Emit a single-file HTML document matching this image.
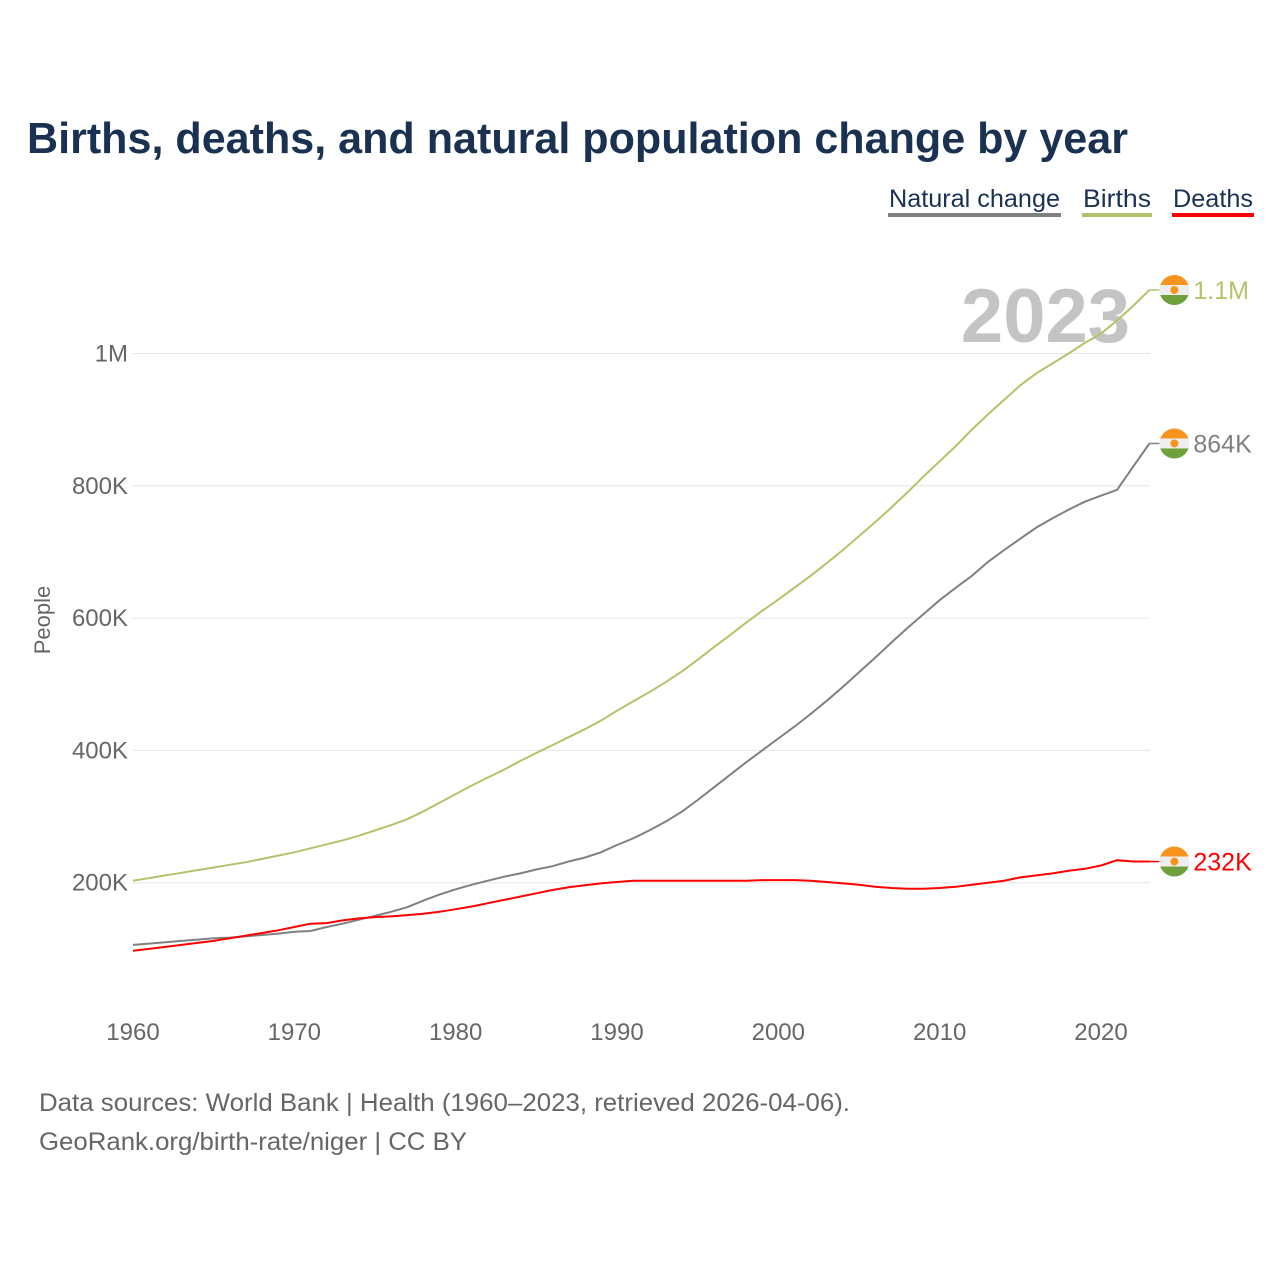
<!DOCTYPE html>
<html><head><meta charset="utf-8"><style>
body{margin:0;background:#fff;font-family:"Liberation Sans",sans-serif;}
</style></head><body>
<svg id="chart" width="1280" height="1280" xmlns="http://www.w3.org/2000/svg">
<rect width="1280" height="1280" fill="#fff"/>
<text x="27" y="153" font-size="44" font-weight="bold" fill="#1a3152" textLength="1101" lengthAdjust="spacingAndGlyphs">Births, deaths, and natural population change by year</text>
<g>
<g><text x="889" y="207" font-size="25" fill="#1a3152" textLength="171" lengthAdjust="spacingAndGlyphs">Natural change</text><rect x="888" y="213" width="173" height="4" fill="#808080"/></g>
<g><text x="1083" y="207" font-size="25" fill="#1a3152" textLength="68" lengthAdjust="spacingAndGlyphs">Births</text><rect x="1082" y="213" width="70" height="4" fill="#b4c36a"/></g>
<g><text x="1173" y="207" font-size="25" fill="#1a3152" textLength="80" lengthAdjust="spacingAndGlyphs">Deaths</text><rect x="1172" y="213" width="82" height="4" fill="#ff0000"/></g>
</g>
<text x="1130" y="342" font-size="76" font-weight="bold" fill="#c4c4c4" text-anchor="end">2023</text>
<g id="grid"></g>
<g id="yt"></g>
<g id="xt"></g>
<text transform="translate(50,620) rotate(-90)" font-size="22" fill="#666" text-anchor="middle">People</text>
<g id="lines"></g>
<g id="ends"></g>
<text x="39" y="1111" font-size="25" fill="#666" textLength="811" lengthAdjust="spacingAndGlyphs">Data sources: World Bank | Health (1960–2023, retrieved 2026-04-06).</text>
<text x="39" y="1150" font-size="25" fill="#666" textLength="428" lengthAdjust="spacingAndGlyphs">GeoRank.org/birth-rate/niger | CC BY</text>
</svg>
<script>
const years=[];for(let y=1960;y<=2023;y++)years.push(y);
const births=[203,207,211,215,219,223,227,231,236,241,246,252,258,264,271,279,287,296,308,321,334,347,359,371,384,396,408,420,432,445,460,474,488,503,519,537,556,574,593,611,628,646,664,683,703,724,745,767,790,814,837,860,885,908,930,952,970,985,1000,1016,1030,1050,1072,1096];
const natural=[106,108,110,112,114,116,117,119,121,123,126,127,133,138,144,150,156,163,173,182,190,197,203,209,214,220,225,232,238,246,257,267,279,292,307,325,344,363,382,400,418,436,455,475,496,518,540,563,585,606,627,646,664,685,703,720,737,751,764,776,785,794,829,864];
const deaths=[97,100,103,106,109,112,116,120,124,128,133,138,139,143,146,148,149,151,153,156,160,164,169,174,179,184,189,193,196,199,201,203,203,203,203,203,203,203,203,204,204,204,203,201,199,197,194,192,191,191,192,194,197,200,203,208,211,214,218,221,226,234,232,232];
const yTicks=[200,400,600,800,1000];
const yTickLabels=["200K","400K","600K","800K","1M"];
const xTicks=[1960,1970,1980,1990,2000,2010,2020];
const endLabels=["1.1M","864K","232K"];
const NS="http://www.w3.org/2000/svg";
const X=y=>133+(y-1960)*16.133;
const Y=v=>1015-v*0.6615;
function mk(tag,attrs,parent){const e=document.createElementNS(NS,tag);for(const k in attrs)e.setAttribute(k,attrs[k]);parent.appendChild(e);return e;}
const grid=document.getElementById('grid'),yt=document.getElementById('yt'),xt=document.getElementById('xt');
yTicks.forEach((t,i)=>{
 const l=mk('line',{x1:133,x2:1150,y1:Y(t),y2:Y(t),stroke:'#e6e6e6','stroke-width':1},grid);
 
 
 const tx=mk('text',{x:128,y:Y(t)+8,'font-size':24,fill:'#666','text-anchor':'end'},yt);tx.textContent=yTickLabels[i];
 
 
});
xTicks.forEach(t=>{
 const tx=mk('text',{x:X(t),y:1040,'font-size':24,fill:'#666','text-anchor':'middle'},xt);tx.textContent=t;
 
 
});
const series=[[births,'#b4c36a','births-line'],[natural,'#808080','natural-change-line'],[deaths,'#ff0000','deaths-line']];
const lines=document.getElementById('lines'),ends=document.getElementById('ends');
series.forEach((s,i)=>{
 const d=s[0].map((v,j)=>(j?'L':'M')+X(years[j]).toFixed(1)+','+Y(v).toFixed(1)).join('');
 const p=mk('path',{d:d,fill:'none',stroke:s[1],'stroke-width':2},lines);
 
 
 const last=s[0][s[0].length-1],ly=Y(last),lx=X(2023);
 const g=mk('g',{},ends);
 
 
 mk('line',{x1:lx,x2:lx+10,y1:ly,y2:ly,stroke:s[1],'stroke-width':1.5},g);
 const cx=lx+25;
 mk('clipPath',{id:'c'+i},g).appendChild(document.createElementNS(NS,'circle'));
 const cc=g.querySelector('clipPath circle');cc.setAttribute('cx',cx);cc.setAttribute('cy',ly);cc.setAttribute('r',15);
 mk('rect',{x:cx-15,y:ly-15,width:30,height:10,fill:'#f7941d','clip-path':'url(#c'+i+')'},g);
 mk('rect',{x:cx-15,y:ly-5,width:30,height:10,fill:'#eee','clip-path':'url(#c'+i+')'},g);
 mk('rect',{x:cx-15,y:ly+5,width:30,height:10,fill:'#6ea03c','clip-path':'url(#c'+i+')'},g);
 mk('circle',{cx:cx,cy:ly,r:4,fill:'#f7941d'},g);
 const t=mk('text',{x:cx+19,y:ly+9,'font-size':25,fill:s[1]},g);t.textContent=endLabels[i];
});
</script>
</body></html>
